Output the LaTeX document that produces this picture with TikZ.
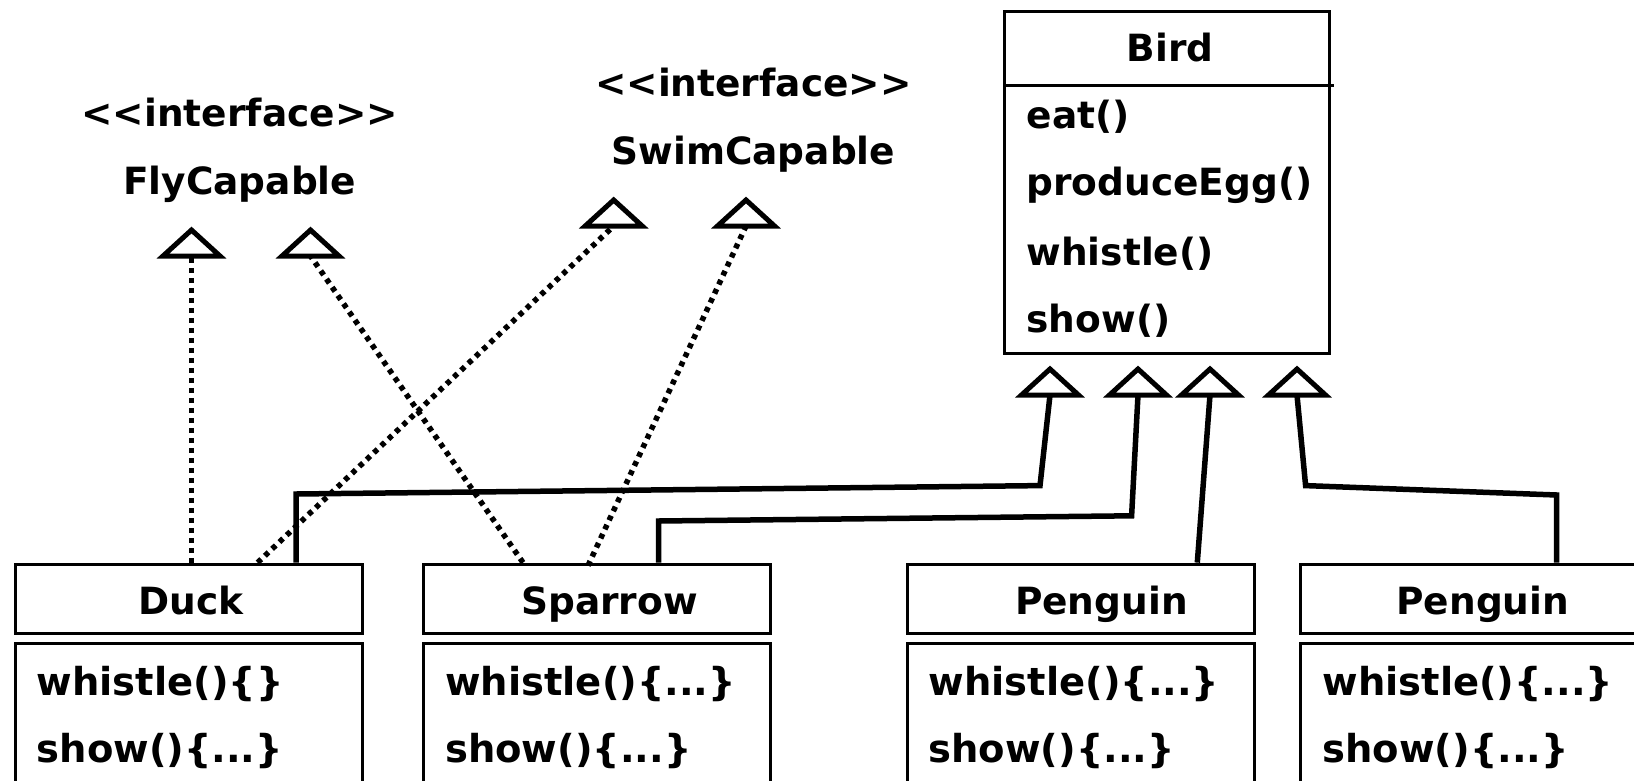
\documentclass[tikz,border=0pt]{standalone}
\usepackage{fontspec}
\setmainfont{DejaVu Sans}[Ligatures=TeXOff]
\usetikzlibrary{calc}
\begin{document}
\begin{tikzpicture}[x=1pt,y=-1pt,
  box/.style={draw, line width=3pt, inner sep=0pt, minimum width=347pt},
  headbox/.style={box, minimum height=69pt},
  bodybox/.style={box, minimum height=180pt, anchor=north},
  txt/.style={font=\fontsize{37.5}{44}\selectfont\bfseries, inner sep=0pt},
  method/.style={txt, anchor=base west},
  impl/.style={font=\fontsize{38.5}{44}\selectfont\bfseries, inner sep=0pt, anchor=base west},
  gen/.style={line width=5.5pt, line join=miter},
  real/.style={line width=5.5pt, dash pattern=on 5pt off 5pt},
  tri/.style={draw, line width=5pt, fill=white, line join=miter},
  hollowtri/.pic={\draw[tri] (-28.5,0) -- (0,-26) -- (28.5,0) -- cycle;}
]
\useasboundingbox (0,0) rectangle (1634,780);
\clip (0,0) rectangle (1634,780);

% --- interfaces ---
\node[txt, anchor=base] (flyst) at (239.7,126) {<<interface>>};
\node[txt, anchor=base] (fly) at (239.7,194) {FlyCapable};
\node[txt, anchor=base] (swimst) at (753.4,96) {<<interface>>};
\node[txt, anchor=base] (swim) at (753.4,164) {SwimCapable};

% --- base class Bird ---
\node[draw, line width=3pt, inner sep=0pt, minimum width=325pt, minimum height=342pt]
  (bird) at (1167,182.4) {};
\draw[line width=3pt] (bird.west |- 0,85.4) -- ++(331,0);
\node[txt, anchor=base] (birdname) at (1170,61.7) {Bird};
\node[method] (m1) at (1026.4,128) {eat()};
\node[method] (m2) at (1026.4,195) {produceEgg()};
\node[method] (m3) at (1026.4,265) {whistle()};
\node[method] (m4) at (1026.4,332) {show()};

% --- concrete classes ---
\node[headbox] (duck) at (188.6,598.6) {};
\node[bodybox] (duckbody) at (188.6,641.9) {};
\node[txt, anchor=base] (duckname) at (190.7,614) {Duck};
\node[impl] (dw) at (36.5,695) {whistle()\{\}};
\node[impl] (ds) at (36.5,762) {show()\{...\}};

\node[headbox] (sparrow) at (597,598.6) {};
\node[bodybox] (sparrowbody) at (597,641.9) {};
\node[txt, anchor=base] (sparrowname) at (609.6,614) {Sparrow};
\node[impl] (sw) at (445,695) {whistle()\{...\}};
\node[impl] (ss) at (445,762) {show()\{...\}};

\node[headbox] (pengA) at (1080.5,598.6) {};
\node[bodybox] (pengAbody) at (1080.5,641.9) {};
\node[txt, anchor=base] (pengAname) at (1101.4,614) {Penguin};
\node[impl] (pw) at (928.4,695) {whistle()\{...\}};
\node[impl] (ps) at (928.4,762) {show()\{...\}};

\node[headbox] (pengB) at (1474.4,598.6) {};
\node[bodybox] (pengBbody) at (1474.4,641.9) {};
\node[txt, anchor=base] (pengBname) at (1482.8,614) {Penguin};
\node[impl] (qw) at (1322.3,695) {whistle()\{...\}};
\node[impl] (qs) at (1322.3,762) {show()\{...\}};

% --- arrow heads (base midpoints) ---
\coordinate (fb1) at (191.5,256);
\coordinate (fb2) at (310.5,256);
\coordinate (sb1) at (613.7,226);
\coordinate (sb2) at (746,226);
\coordinate (bb1) at (1050,395);
\coordinate (bb2) at (1138,395);
\coordinate (bb3) at (1210,395);
\coordinate (bb4) at (1297,395);

% --- realization (dotted) ---
\draw[real] (fb1 |- duck.north) -- (fb1);
\draw[real] ($(sparrow.north west)+(101,0)$) -- (fb2);
\draw[real] ($(duck.north west)+(244,0)$) -- (sb1);
\draw[real] ($(sparrow.north west)+(166,3)$) -- (sb2);

% --- generalization (solid) ---
\coordinate (k1a) at (296,494);   \coordinate (k1b) at (1040,485.6);
\coordinate (k2a) at (658.5,521); \coordinate (k2b) at (1131.6,515.8);
\coordinate (k3a) at (1197.3,0);
\coordinate (k4a) at (1556.7,495); \coordinate (k4b) at (1305.6,485.6);
\draw[gen] (k1a |- duck.north) -- (k1a) -- (k1b) -- (bb1);
\draw[gen] (k2a |- sparrow.north) -- (k2a) -- (k2b) -- (bb2);
\draw[gen] (k3a |- pengA.north) -- (bb3);
\draw[gen] (k4a |- pengB.north) -- (k4a) -- (k4b) -- (bb4);

\foreach \p in {fb1,fb2,sb1,sb2,bb1,bb2,bb3,bb4}
  \pic at (\p) {hollowtri};
\end{tikzpicture}
\end{document}
